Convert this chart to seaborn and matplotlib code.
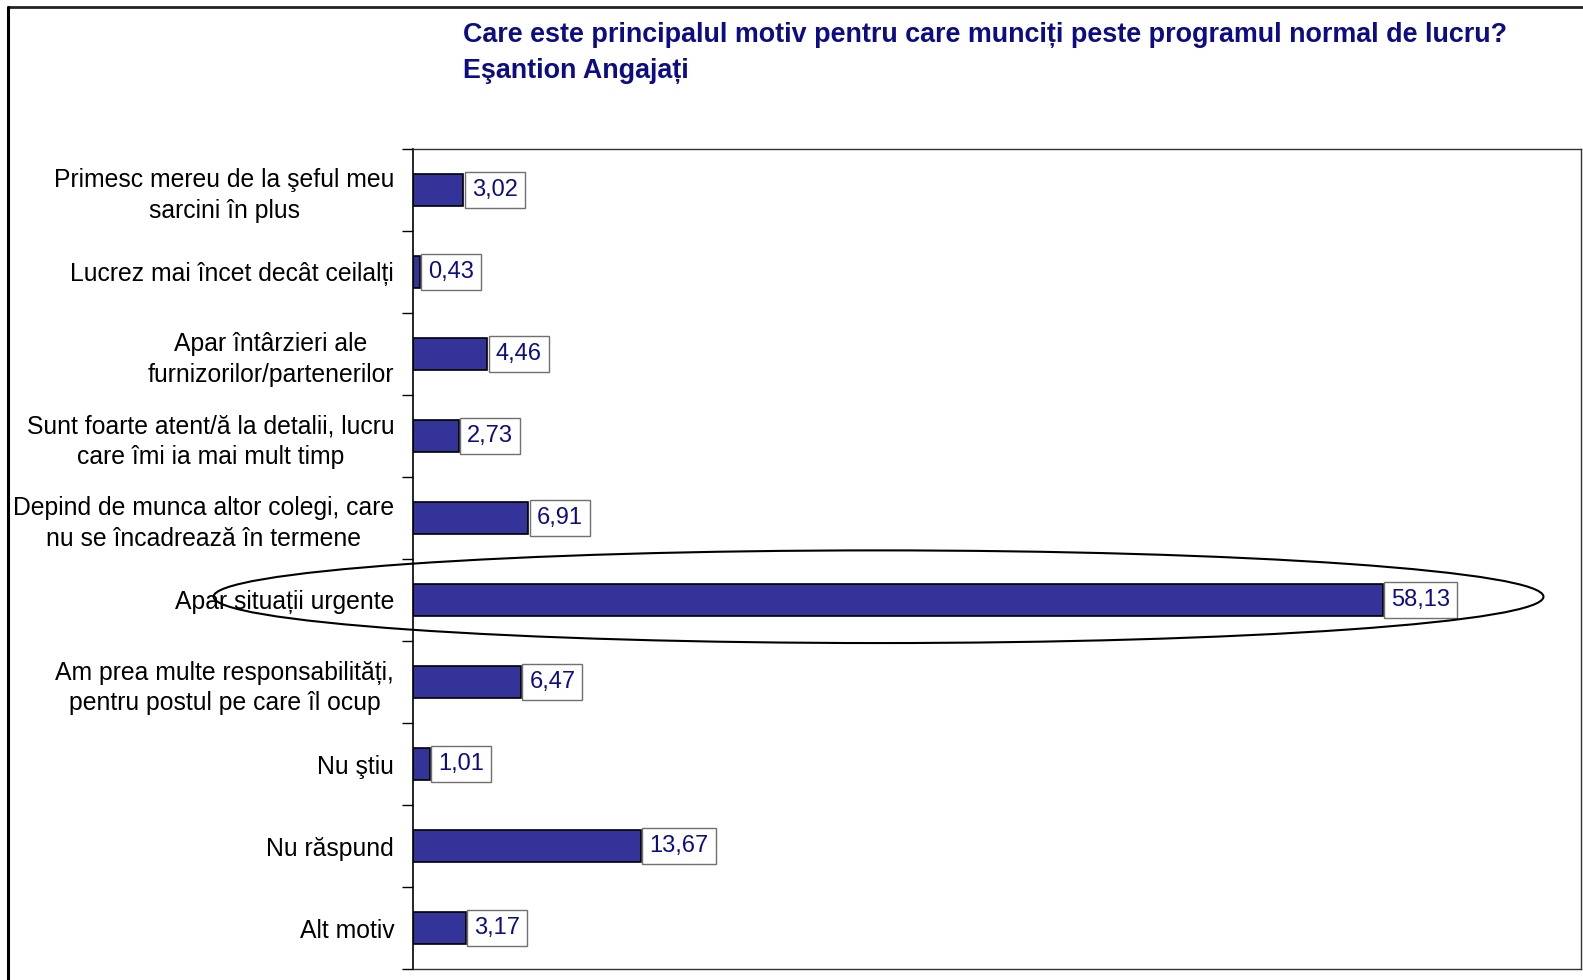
import matplotlib
matplotlib.use("Agg")
import matplotlib.pyplot as plt
import seaborn as sns
import pandas as pd
from matplotlib.patches import Ellipse
from matplotlib.lines import Line2D
from matplotlib.ticker import FixedLocator

# Survey answers and shares (%)
categories = [
    "Primesc mereu de la şeful meu\nsarcini în plus",
    "Lucrez mai încet decât ceilalți",
    "Apar întârzieri ale\nfurnizorilor/partenerilor",
    "Sunt foarte atent/ă la detalii, lucru\ncare îmi ia mai mult timp",
    "Depind de munca altor colegi, care\nnu se încadrează în termene",
    "Apar situații urgente",
    "Am prea multe responsabilități,\npentru postul pe care îl ocup",
    "Nu ştiu",
    "Nu răspund",
    "Alt motiv",
]
values = [3.02, 0.43, 4.46, 2.73, 6.91, 58.13, 6.47, 1.01, 13.67, 3.17]

title_lines = [
    "Care este principalul motiv pentru care munciți peste programul normal de lucru?",
    "Eşantion Angajați",
]
highlight = "Apar situații urgente"

sns.set_theme(style="white")
plt.rcParams["font.family"] = ["Liberation Sans", "DejaVu Sans"]

NAVY = "#0c0c86"
BAR = "#333399"

fig = plt.figure(figsize=(15.83, 9.80), dpi=100)
fig.patch.set_facecolor("white")
ax = fig.add_axes([413 / 1583, 1 - 969 / 980, (1581 - 413) / 1583, (969 - 149) / 980])

df = pd.DataFrame({"categorie": categories, "procent": values})
sns.barplot(data=df, x="procent", y="categorie", orient="h", color=BAR,
            saturation=1, edgecolor="black", linewidth=1.2, width=0.4, ax=ax)

ax.set_xlim(0, 70)
ax.set_ylim(len(categories) - 0.5, -0.5)
ax.set_xlabel("")
ax.set_ylabel("")
ax.set_xticks([])

# category labels at row centres, tick marks on row boundaries
ax.tick_params(axis="y", which="major", length=0, pad=13.5, labelsize=17.8, labelcolor="black")
for lab in ax.get_yticklabels():
    lab.set_multialignment("center")
    lab.set_linespacing(1.36)
ax.yaxis.set_minor_locator(FixedLocator([i - 0.5 for i in range(len(categories) + 1)]))
ax.tick_params(axis="y", which="minor", length=8, width=1, color="black", left=True, direction="out")

for side in ["top", "right", "bottom"]:
    ax.spines[side].set_color("#333333")
    ax.spines[side].set_linewidth(1)
ax.spines["left"].set_color("black")
ax.spines["left"].set_linewidth(1.2)

# value labels in boxes next to each bar
for i, v in enumerate(values):
    ax.annotate(f"{v:.2f}".replace(".", ","), xy=(v, i), xytext=(6, 0),
                textcoords="offset points", ha="left", va="center",
                fontsize=17, color=NAVY,
                bbox=dict(boxstyle="square,pad=0.3", facecolor="white",
                          edgecolor="#707070", linewidth=1))

# hand-drawn style outline around the most frequent answer
row = categories.index(highlight)
ax.add_patch(Ellipse((27.9, row - 0.04), width=79.7, height=1.13, fill=False,
                     edgecolor="black", linewidth=1.5, clip_on=False, zorder=5))

# title
fig.text(463 / 1583, 1 - 35 / 980, title_lines[0], fontsize=19.4, fontweight="bold",
         color=NAVY, ha="left", va="center")
fig.text(463 / 1583, 1 - 71 / 980, title_lines[1], fontsize=19.4, fontweight="bold",
         color=NAVY, ha="left", va="center")

# outer chart frame
fig.add_artist(Line2D([8 / 1583, 1], [1 - 7 / 980, 1 - 7 / 980], color="#222222", linewidth=2))
fig.add_artist(Line2D([8 / 1583, 8 / 1583], [0, 1 - 7 / 980], color="black", linewidth=2.2))

fig.savefig("out.png", dpi=100, facecolor="white")
